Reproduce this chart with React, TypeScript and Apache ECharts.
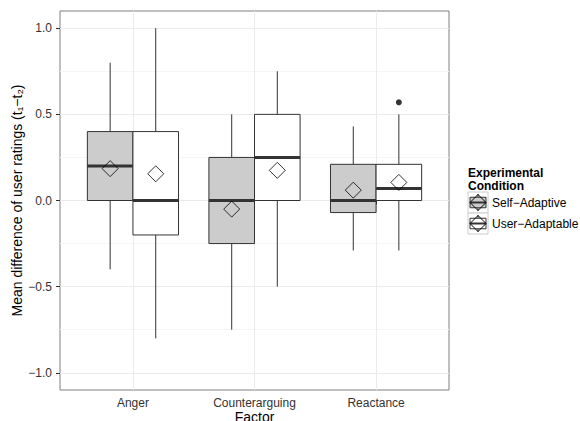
import React, { useEffect, useRef } from "react";
import * as echarts from "echarts";

const categories = ["Anger", "Counterarguing", "Reactance"];
const conditions = ["Self-Adaptive", "User-Adaptable"];
// [min, q1, median, q3, max]
const selfAdaptiveBoxes = [
  [-0.4, 0, 0.2, 0.4, 0.8],
  [-0.75, -0.25, 0, 0.25, 0.5],
  [-0.29, -0.07, 0, 0.21, 0.43],
];
const userAdaptableBoxes = [
  [-0.8, -0.2, 0, 0.4, 1.0],
  [-0.5, 0, 0.25, 0.5, 0.75],
  [-0.29, 0, 0.07, 0.21, 0.5],
];
const selfAdaptiveMeans = [0.185, -0.05, 0.06];
const userAdaptableMeans = [0.155, 0.175, 0.105];
// [categoryIndex, value]
const userAdaptableOutliers = [[2, 0.57]];
const yMajorTicks = [-1, -0.5, 0, 0.5, 1];
const yMinorTicks = [-0.75, -0.25, 0.25, 0.75];

const FONT = "'Liberation Sans', Arial, Helvetica, sans-serif";
const BOX_W = 0.375;
const DODGE = 0.1875;
const fills = ["#cccccc", "#ffffff"];
const INK = "#333333";

function boxData(boxes: number[][], offset: number) {
  return boxes.map((b, i) => [i + 1 + offset, ...b]);
}

function makeRenderItem(fill: string) {
  return (params: any, api: any) => {
    const x = api.value(0);
    const pMin = api.coord([x, api.value(1)]);
    const pQ1 = api.coord([x, api.value(2)]);
    const pMed = api.coord([x, api.value(3)]);
    const pQ3 = api.coord([x, api.value(4)]);
    const pMax = api.coord([x, api.value(5)]);
    const half = api.size([BOX_W, 0])[0] / 2;
    const cx = pMed[0];
    return {
      type: "group",
      children: [
        {
          type: "line",
          shape: { x1: cx, y1: pQ3[1], x2: cx, y2: pMax[1] },
          style: { stroke: INK, lineWidth: 1 },
        },
        {
          type: "line",
          shape: { x1: cx, y1: pQ1[1], x2: cx, y2: pMin[1] },
          style: { stroke: INK, lineWidth: 1 },
        },
        {
          type: "rect",
          shape: { x: cx - half, y: pQ3[1], width: 2 * half, height: pQ1[1] - pQ3[1] },
          style: { fill, stroke: INK, lineWidth: 1 },
        },
        {
          type: "line",
          shape: { x1: cx - half, y1: pMed[1], x2: cx + half, y2: pMed[1] },
          style: { stroke: INK, lineWidth: 3 },
        },
      ],
    };
  };
}

function legendKey(x0: number, y0: number, fill: string) {
  const w = 20;
  const h = 21;
  const cx = x0 + w / 2;
  const cy = y0 + h / 2;
  return [
    { type: "rect", shape: { x: x0, y: y0, width: w, height: h }, style: { fill: "#ffffff", stroke: "#cccccc", lineWidth: 1 } },
    { type: "line", shape: { x1: cx, y1: y0 + 0.1 * h, x2: cx, y2: y0 + 0.25 * h }, style: { stroke: INK, lineWidth: 1 } },
    { type: "line", shape: { x1: cx, y1: y0 + 0.75 * h, x2: cx, y2: y0 + 0.9 * h }, style: { stroke: INK, lineWidth: 1 } },
    { type: "rect", shape: { x: x0 + 2, y: y0 + 0.25 * h, width: w - 4, height: 0.5 * h }, style: { fill, stroke: INK, lineWidth: 1 } },
    { type: "line", shape: { x1: x0 + 2, y1: cy, x2: x0 + w - 2, y2: cy }, style: { stroke: INK, lineWidth: 2 } },
    {
      type: "polygon",
      shape: { points: [[cx, cy - 8], [cx + 8, cy], [cx, cy + 8], [cx - 8, cy]] },
      style: { fill: "none", stroke: "#000000", lineWidth: 1 },
    },
  ];
}

export default function App() {
  const ref = useRef<HTMLDivElement>(null);
  useEffect(() => {
    document.body.style.margin = "0";
    const chart = echarts.init(ref.current!, null, { renderer: "svg" });
    const minus = (s: string) => s.replace("-", "\u2212");
    chart.setOption({
      animation: false,
      backgroundColor: "#ffffff",
      textStyle: { fontFamily: FONT },
      grid: {
        left: 60,
        top: 11,
        right: 131,
        bottom: 31,
        outerBoundsMode: "none",
        containLabel: false,
        show: true,
        borderColor: "#7f7f7f",
        borderWidth: 1,
        backgroundColor: "#ffffff",
      },
      xAxis: {
        type: "value",
        min: 0.4,
        max: 3.6,
        name: "Factor",
        nameLocation: "middle",
        nameGap: 20,
        nameMoveOverlap: false,
        nameTextStyle: { fontSize: 14, color: "#000000", fontFamily: FONT },
        axisLine: { show: false },
        axisTick: { show: true, customValues: [1, 2, 3], length: 4, lineStyle: { color: INK } },
        axisLabel: {
          customValues: [1, 2, 3],
          formatter: (v: number) => categories[Math.round(v) - 1],
          fontSize: 12,
          color: "#333333",
          margin: 7,
          fontFamily: FONT,
        },
        splitLine: { show: true, lineStyle: { color: "#ebebeb", width: 1 } },
      },
      yAxis: [
        {
          type: "value",
          min: -1.1,
          max: 1.1,
          name: "Mean difference of user ratings (t\u2081\u2212t\u2082)",
          nameLocation: "middle",
          nameGap: 36,
          nameMoveOverlap: false,
          nameTextStyle: { fontSize: 14, color: "#000000", fontFamily: FONT },
          axisLine: { show: false },
          axisTick: { show: true, customValues: yMajorTicks, length: 4, lineStyle: { color: INK } },
          axisLabel: {
            customValues: yMajorTicks,
            formatter: (v: number) => minus(v.toFixed(1)),
            fontSize: 12,
            color: "#333333",
            margin: 8,
            fontFamily: FONT,
          },
          splitLine: { show: true, lineStyle: { color: "#ebebeb", width: 1 } },
        },
        {
          type: "value",
          min: -1.1,
          max: 1.1,
          position: "left",
          axisLine: { show: false },
          axisTick: { show: false, customValues: yMinorTicks },
          axisLabel: { show: false, customValues: yMinorTicks },
          splitLine: { show: true, lineStyle: { color: "#f5f5f5", width: 1 } },
        },
      ],
      series: [
        {
          type: "custom",
          name: conditions[0],
          renderItem: makeRenderItem(fills[0]),
          data: boxData(selfAdaptiveBoxes, -DODGE),
          encode: { x: 0, y: [1, 2, 3, 4, 5] },
          z: 3,
        },
        {
          type: "custom",
          name: conditions[1],
          renderItem: makeRenderItem(fills[1]),
          data: boxData(userAdaptableBoxes, DODGE),
          encode: { x: 0, y: [1, 2, 3, 4, 5] },
          z: 3,
        },
        {
          type: "scatter",
          data: userAdaptableOutliers.map(([i, v]) => [i + 1 + DODGE, v]),
          symbol: "circle",
          symbolSize: 6,
          itemStyle: { color: "#000000" },
          z: 4,
        },
        {
          type: "scatter",
          data: selfAdaptiveMeans.map((v, i) => [i + 1 - DODGE, v]),
          symbol: "diamond",
          symbolSize: 16,
          itemStyle: { color: "rgba(0,0,0,0)", borderColor: "#000000", borderWidth: 1 },
          z: 5,
        },
        {
          type: "scatter",
          data: userAdaptableMeans.map((v, i) => [i + 1 + DODGE, v]),
          symbol: "diamond",
          symbolSize: 16,
          itemStyle: { color: "rgba(0,0,0,0)", borderColor: "#000000", borderWidth: 1 },
          z: 5,
        },
      ],
      graphic: [
        {
          type: "text",
          x: 468,
          y: 166,
          style: {
            text: "Experimental\nCondition",
            fontSize: 12,
            fontWeight: "bold",
            lineHeight: 13,
            fill: "#000000",
            fontFamily: FONT,
          },
        },
        ...legendKey(468, 192, fills[0]),
        ...legendKey(468, 213, fills[1]),
        {
          type: "text",
          x: 492,
          y: 202.5,
          style: { text: minus(conditions[0]), fontSize: 12, fill: "#000000", verticalAlign: "middle", fontFamily: FONT },
        },
        {
          type: "text",
          x: 492,
          y: 223.5,
          style: { text: minus(conditions[1]), fontSize: 12, fill: "#000000", verticalAlign: "middle", fontFamily: FONT },
        },
      ],
    });
    return () => chart.dispose();
  }, []);
  return <div ref={ref} style={{ width: 580, height: 421, position: "fixed", left: 0, top: 0 }} />;
}
